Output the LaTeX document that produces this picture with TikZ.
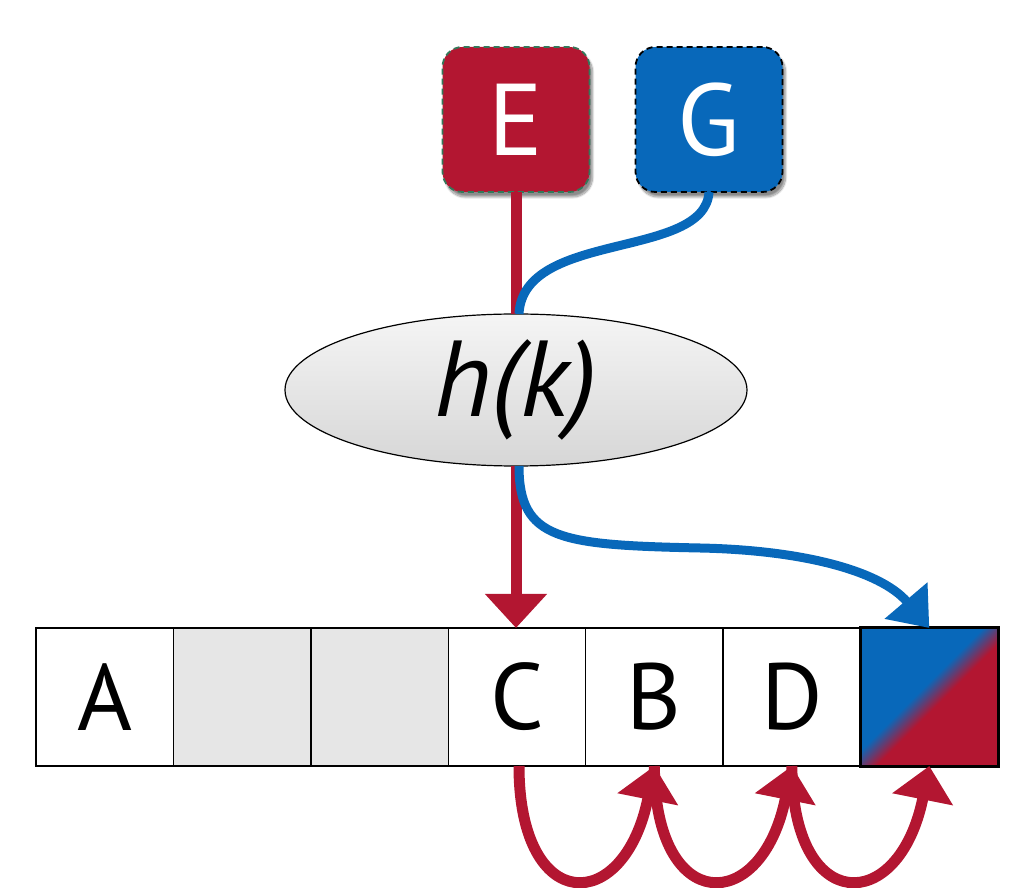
\documentclass[tikz,border=0pt]{standalone}
\usepackage{fontspec}
\setmainfont{PT Sans}
\usetikzlibrary{arrows.meta,shapes.geometric,shadows.blur}
\definecolor{hred}{RGB}{179,22,49}
\definecolor{hblue}{RGB}{8,104,186}
\definecolor{hgreen}{RGB}{52,120,90}
\definecolor{slotgray}{RGB}{230,230,230}
\pgfdeclarehorizontalshading{splitdiag}{100bp}{color(0bp)=(hblue); color(46bp)=(hblue); color(54bp)=(hred); color(100bp)=(hred)}
\tikzset{
  cell/.style={draw=black, line width=1.5pt, minimum width=137.4pt, minimum height=138pt,
    inner sep=0pt, outer sep=0pt, font=\fontsize{94}{94}\selectfont},
  keybox/.style={rounded corners=20pt, minimum width=147pt, minimum height=145pt,
    inner sep=0pt, outer sep=0pt, line width=1.8pt, dash pattern=on 6pt off 4pt,
    text=white, font=\fontsize{102}{102}\selectfont,
    blur shadow={shadow xshift=3pt, shadow yshift=-5pt, shadow blur steps=12, shadow opacity=45}},
  hashfn/.style={ellipse, draw=black, line width=1.2pt, minimum width=462pt, minimum height=152pt,
    inner sep=0pt, outer sep=0pt, top color=gray!8, bottom color=gray!32,
    font=\fontsize{108}{108}\selectfont\itshape},
  redline/.style={draw=hred, line width=11pt},
  blueline/.style={draw=hblue, line width=9pt},
  redtip/.style={-{Triangle[width=60pt,length=34pt]}},
  bluetip/.style={-{Triangle[width=54pt,length=36pt]}}
}
\begin{document}
\begin{tikzpicture}[x=1pt,y=1pt]
\useasboundingbox (0,0) rectangle (1015,887);

% table slots
\node[cell, fill=white] (cA) at (104.7,190) {A};
\node[cell, fill=slotgray] (c2) at (242.1,190) {};
\node[cell, fill=slotgray] (c3) at (379.6,190) {};
\node[cell, fill=white] (cC) at (517.0,190) {C};
\node[cell, fill=white] (cB) at (654.4,190) {B};
\node[cell, fill=white] (cD) at (791.9,190) {D};
\node[cell, line width=3pt, shading=splitdiag, shading angle=-45, shade] (cX) at (929.3,190) {};

% keys
\node[keybox, fill=hred, draw=hgreen] (E) at (516,767.5) {E};
\node[keybox, fill=hblue, draw=black] (G) at (709,767.5) {G};

% hash function
\node[hashfn] (hk) at (516,497) {h(k)};

% key E goes to slot C
\draw[redline] (E.south) -- (hk.north);
\draw[redline, redtip] (hk.south) -- (hk.south |- cC.north);

% key G collides and lands in the last slot
\draw[blueline] (G.south) .. controls +(-4,-68) and +(4,84) .. ([xshift=3pt]hk.north);
\draw[blueline, bluetip] ([xshift=3pt]hk.south) .. controls (519,347) and (560,342) .. (700,339)
  .. controls (800,337) and (880,317) .. (cX.north);

% linear probing sequence
\draw[redline, redtip] ([xshift=2pt]cC.south) .. controls +(0,-150) and +(-30,-150) .. (cB.south);
\draw[redline, redtip] (cB.south) .. controls +(0,-150) and +(-30,-150) .. (cD.south);
\draw[redline, redtip] (cD.south) .. controls +(0,-150) and +(-30,-150) .. (cX.south);
\end{tikzpicture}
\end{document}
